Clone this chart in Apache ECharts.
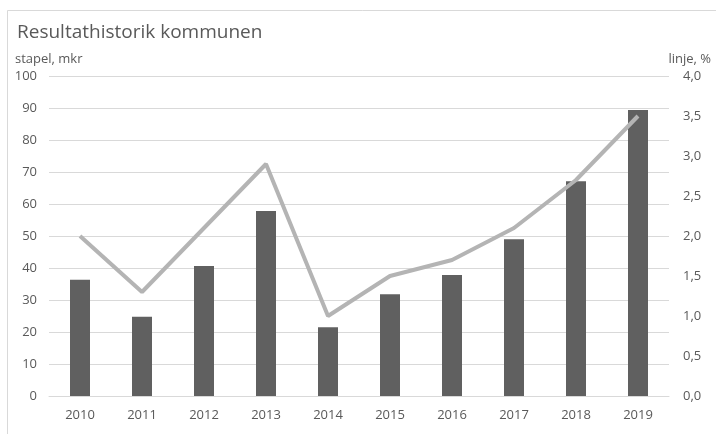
<!DOCTYPE html>
<html>
<head>
<meta charset="utf-8">
<script src="https://cdn.jsdelivr.net/npm/echarts@6/dist/echarts.min.js"></script>
<style>html,body{margin:0;padding:0;background:#fff}#c{width:716px;height:434px}</style>
</head>
<body>
<div id="c"></div>
<script>
const titleText = 'Resultathistorik kommunen';
const leftAxisName = 'stapel, mkr';
const rightAxisName = 'linje, %';
const years = ['2010','2011','2012','2013','2014','2015','2016','2017','2018','2019'];
const stapel = [36.3, 24.8, 40.6, 57.8, 21.5, 31.8, 37.8, 49.0, 67.1, 89.4];
const linje = [2.0, 1.3, 2.1, 2.9, 1.0, 1.5, 1.7, 2.1, 2.7, 3.5];

const font = 'Open Sans';
const txt = '#595959';
const chart = echarts.init(document.getElementById('c'), null, {renderer:'canvas'});
chart.setOption({
  animation: false,
  backgroundColor: '#fff',
  graphic: [{type:'rect', shape:{x:7.5,y:10.5,width:800,height:500}, style:{fill:'none', stroke:'#d9d9d9', lineWidth:1}, z:-1}],
  title: [
    {text: titleText, left: 12, top: 18, textStyle:{fontFamily:font, fontSize:19, fontWeight:'normal', color:txt}},
    {text: leftAxisName, left: 10, top: 48, textStyle:{fontFamily:font, fontSize:13, fontWeight:'normal', color:txt}},
    {text: rightAxisName, right: 0, top: 48, textStyle:{fontFamily:font, fontSize:13, fontWeight:'normal', color:txt}}
  ],
  grid: {left: 49, right: 47, top: 76, bottom: 38},
  xAxis: {
    type: 'category', data: years,
    axisLine: {lineStyle:{color:'#d9d9d9'}}, axisTick:{show:false},
    axisLabel: {fontFamily:font, fontSize:13, color:txt, margin:13}
  },
  yAxis: [
    {type:'value', min:0, max:100, interval:10,
     axisLine:{show:false}, axisTick:{show:false},
     splitLine:{lineStyle:{color:'#d9d9d9'}},
     axisLabel:{fontFamily:font, fontSize:13, color:txt, margin:12}},
    {type:'value', min:0, max:4, interval:0.5,
     axisLine:{show:false}, axisTick:{show:false}, splitLine:{show:false},
     axisLabel:{fontFamily:font, fontSize:13, color:txt, margin:14, align:'left',
       formatter: v => v.toFixed(1).replace('.', ',')}}
  ],
  series: [
    {type:'bar', data: stapel, barWidth: 20, itemStyle:{color:'#606060'}},
    {type:'line', yAxisIndex:1, data: linje, symbol:'none', lineStyle:{color:'#b4b4b4', width:4}, z:3}
  ]
});
</script>
</body>
</html>
